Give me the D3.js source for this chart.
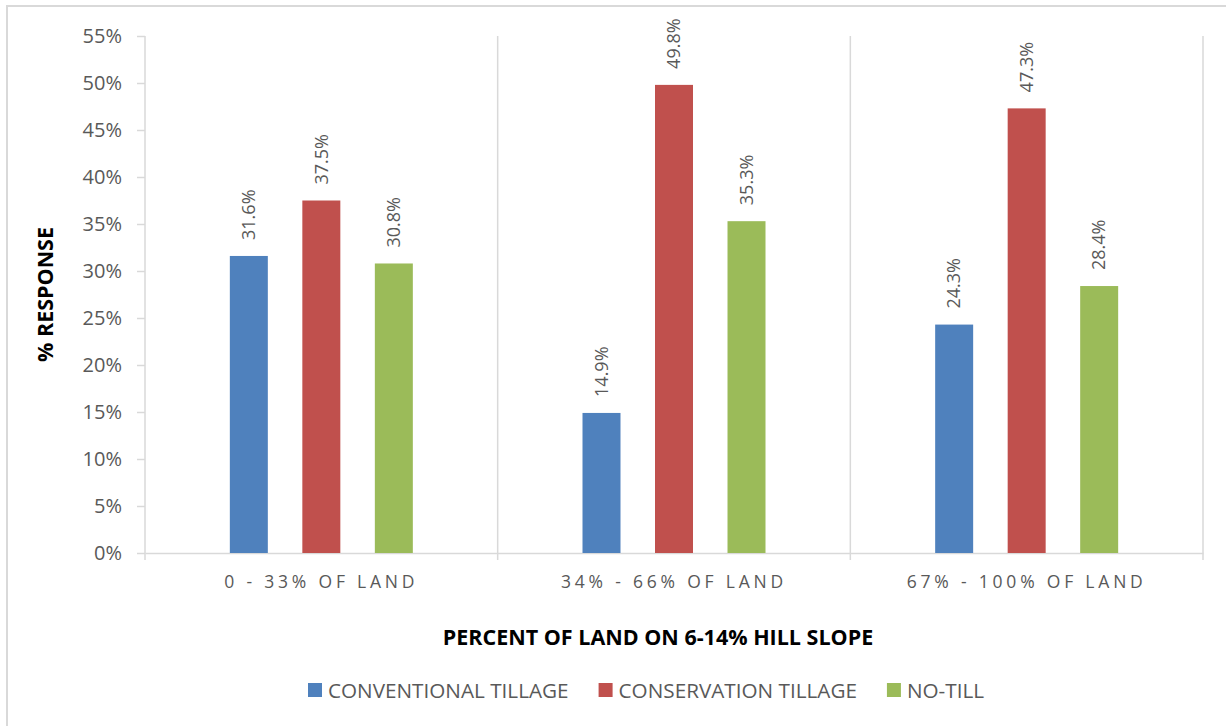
<!DOCTYPE html>
<html>
<head>
<meta charset="utf-8">
<script src="https://cdn.jsdelivr.net/npm/d3@7"></script>
<style>
  html, body { margin: 0; padding: 0; background: #fff; }
  svg { display: block; }
  text { font-family: "Open Sans", "Noto Sans", sans-serif; }
</style>
</head>
<body>
<svg id="chart" width="1226" height="726"></svg>
<script>
// Survey responses by share of land on 6-14% hill slope
const categories = ["0 - 33% OF LAND", "34% - 66% OF LAND", "67% - 100% OF LAND"];
const seriesNames = ["CONVENTIONAL TILLAGE", "CONSERVATION TILLAGE", "NO-TILL"];
const conventionalTillage = [31.6, 14.9, 24.3];
const conservationTillage = [37.5, 49.8, 47.3];
const noTill = [30.8, 35.3, 28.4];
const yTicks = [0, 5, 10, 15, 20, 25, 30, 35, 40, 45, 50, 55];
const seriesColors = ["#4F81BD", "#C0504D", "#9BBB59"];

const seriesValues = [conventionalTillage, conservationTillage, noTill];

const svg = d3.select("#chart");
const W = 1226, H = 726;
const margin = { left: 145, right: 23, top: 36, bottom: 173 };
const plotW = W - margin.left - margin.right;
const plotH = H - margin.top - margin.bottom;
const gridColor = "#d9d9d9";
const textColor = "#595959";

// chart frame
svg.append("rect")
  .attr("x", 7).attr("y", 6)
  .attr("width", 1240).attr("height", 740)
  .attr("fill", "#fff")
  .attr("stroke", gridColor).attr("stroke-width", 2);

const g = svg.append("g").attr("transform", `translate(${margin.left},${margin.top})`);

const x0 = d3.scaleBand().domain(categories).range([0, plotW]).padding(0);
const x1 = d3.scaleBand().domain(seriesNames).range([0, x0.bandwidth()])
  .paddingInner(0.476).paddingOuter(1.17);
const y = d3.scaleLinear().domain([0, 55]).range([plotH, 0]);

// vertical separators between categories
const bounds = categories.map((c, i) => x0(c) + x0.bandwidth());
g.selectAll("line.sep").data(bounds).join("line")
  .attr("class", "sep")
  .attr("x1", d => d).attr("x2", d => d)
  .attr("y1", 0).attr("y2", plotH + 7)
  .attr("stroke", gridColor).attr("stroke-width", 1.5);

// y axis
const yAxis = d3.axisLeft(y).tickValues(yTicks).tickFormat(d => d + "%").tickSize(8).tickPadding(15);
const ya = g.append("g").call(yAxis);
ya.select(".domain").attr("stroke", gridColor).attr("stroke-width", 1.5).attr("d", `M0,0V${plotH}`);
ya.selectAll(".tick line").attr("stroke", gridColor).attr("stroke-width", 1.5);
ya.selectAll(".tick text").attr("fill", textColor).style("font-size", "20px");

// x axis
const xa = g.append("g").attr("transform", `translate(0,${plotH})`)
  .call(d3.axisBottom(x0).tickSize(0).tickPadding(0));
xa.select(".domain").attr("stroke", gridColor).attr("stroke-width", 1.5);
xa.selectAll(".tick text")
  .attr("fill", textColor)
  .attr("y", 35).attr("dy", 0)
  .style("font-size", "17.5px")
  .style("letter-spacing", "3.8px");
g.append("line").attr("x1", 0).attr("x2", 0).attr("y1", plotH).attr("y2", plotH + 7)
  .attr("stroke", gridColor).attr("stroke-width", 1.5);

// bars
const groups = g.selectAll("g.cat").data(categories).join("g")
  .attr("class", "cat")
  .attr("transform", d => `translate(${x0(d)},0)`);

const cells = groups.selectAll("g.bar")
  .data((c, ci) => seriesNames.map((s, si) => ({ s, si, v: seriesValues[si][ci] })))
  .join("g").attr("class", "bar");

cells.append("rect")
  .attr("x", d => x1(d.s))
  .attr("width", x1.bandwidth())
  .attr("y", d => y(d.v))
  .attr("height", d => plotH - y(d.v))
  .attr("fill", d => seriesColors[d.si]);

cells.append("text")
  .attr("transform", d => `translate(${x1(d.s) + x1.bandwidth() / 2},${y(d.v) - 16}) rotate(-90)`)
  .attr("dy", "0.35em")
  .attr("text-anchor", "start")
  .attr("fill", textColor)
  .style("font-size", "18px")
  .text(d => d.v.toFixed(1) + "%");

// axis titles
svg.append("text")
  .attr("transform", `translate(45,${margin.top + plotH / 2}) rotate(-90)`)
  .attr("text-anchor", "middle").attr("dy", "0.35em")
  .attr("fill", "#000").style("font-size", "21.5px").style("font-weight", "bold")
  .text("% RESPONSE");

svg.append("text")
  .attr("x", 658).attr("y", 645)
  .attr("text-anchor", "middle")
  .attr("fill", "#000").style("font-size", "21.5px").style("font-weight", "bold")
  .text("PERCENT OF LAND ON 6-14% HILL SLOPE");

// legend
const legend = svg.append("g").attr("transform", "translate(308,698)");
let lx = 0;
seriesNames.forEach((name, i) => {
  const item = legend.append("g").attr("transform", `translate(${lx},0)`);
  item.append("rect").attr("x", 0).attr("y", -15).attr("width", 14).attr("height", 14)
    .attr("fill", seriesColors[i]);
  const t = item.append("text").attr("x", 20).attr("y", 0)
    .attr("fill", textColor).style("font-size", "20.7px").text(name);
  lx += 20 + t.node().getComputedTextLength() + 30;
});
</script>
</body>
</html>
